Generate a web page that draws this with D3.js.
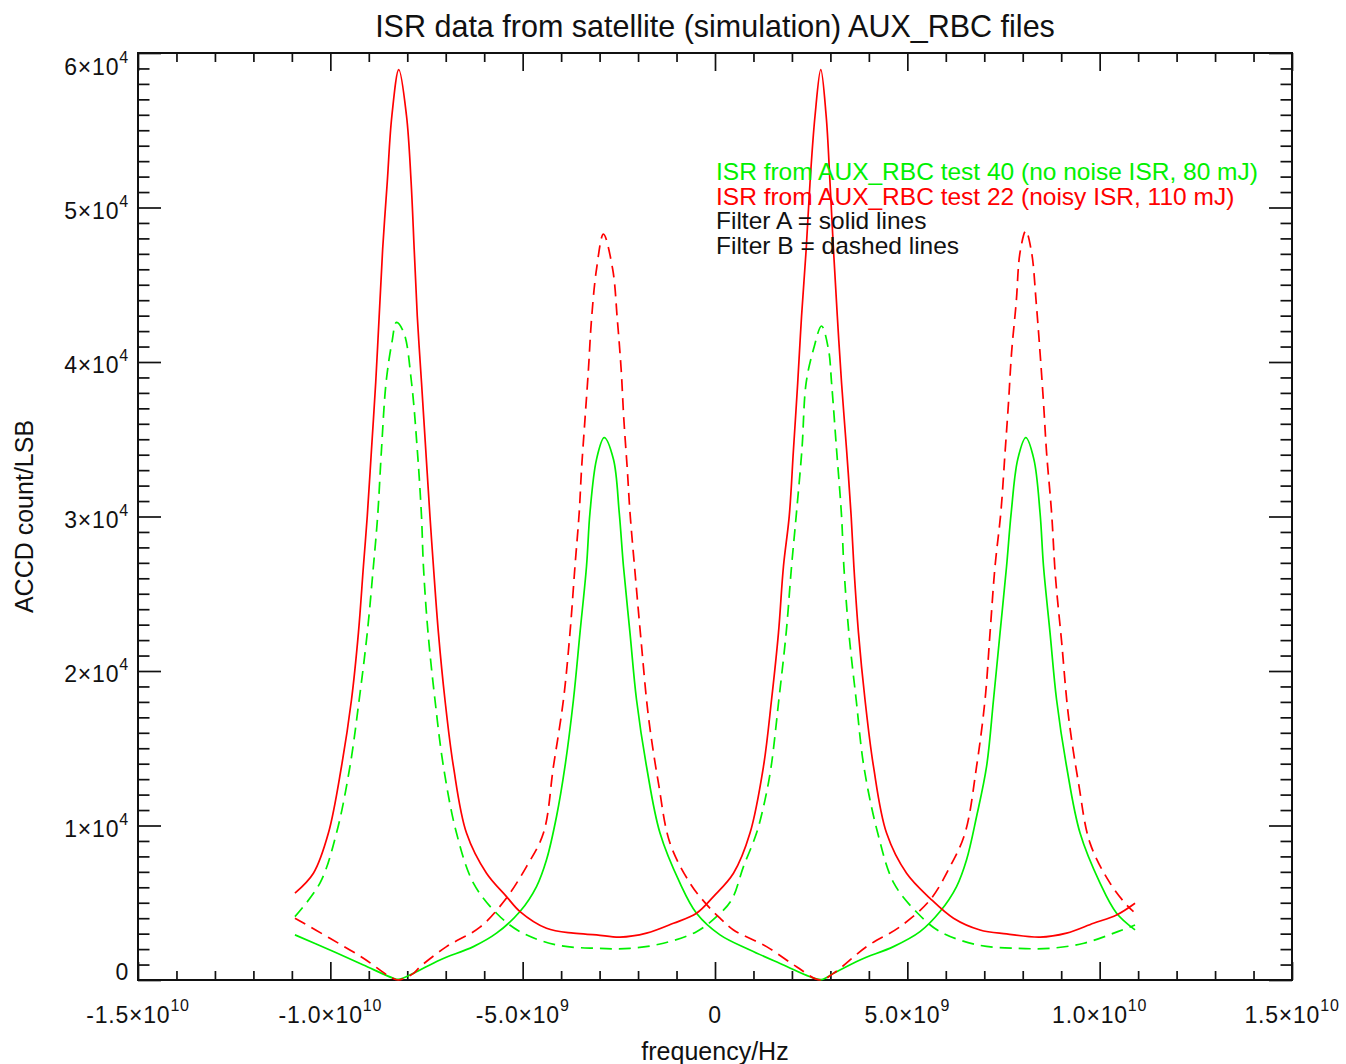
<!DOCTYPE html>
<html>
<head>
<meta charset="utf-8">
<script src="https://cdn.jsdelivr.net/npm/d3@7"></script>
<style>
  body { margin: 0; background: #fff; }
  svg { display: block; }
  text { font-family: "Liberation Sans", Arial, Helvetica, sans-serif; fill: #111; }
</style>
</head>
<body>
<div id="chart"></div>
<script>
// frequencies in units of 1e9 Hz, counts in ACCD LSB

// test 22, filter A (red solid)
const redAFreq = [-10.92,-10.44,-10.05,-9.71,-9.45,-9.27,-9.14,-9.04,-8.93,-8.82,-8.73,-8.64,-8.52,-8.40,-8.22,
  -8.02,-7.90,-7.82,-7.74,-7.63,-7.52,-7.41,-7.32,-7.19,-7.02,-6.80,-6.46,-5.94,-5.42,-5.07,-4.38,-3.68,-3.08,
  -2.47,-1.78,-1.08,-0.48,-0.04,0.48,0.91,1.26,1.47,1.65,1.78,1.93,2.04,2.15,2.25,2.37,2.47,2.60,2.75,2.89,2.99,
  3.08,3.18,3.29,3.42,3.54,3.61,3.73,3.90,4.12,4.46,4.98,5.59,6.20,6.89,7.58,8.45,9.14,9.84,10.44,10.92];
const redACount = [5620,6910,9510,13820,18140,22470,26780,30020,34340,38690,42980,47300,51650,55940,58920,
  55940,51650,47300,42980,38690,34340,30020,26780,22470,18140,13820,9510,6910,5400,4430,3350,3030,2920,
  2770,3030,3670,4320,5400,6910,9510,13820,18140,22470,26780,30020,34340,38640,42960,47280,51600,55920,58920,55920,51600,
  47280,42960,38640,34340,30020,26780,22470,18140,13820,9510,6910,5290,4000,3240,2980,2770,3030,3670,4210,4970];

// test 22, filter B (red dashed)
const redBFreq = [-10.92,-10.01,-9.14,-8.45,-8.23,-7.84,-7.66,-6.98,-6.11,-5.46,-4.90,-4.46,-4.20,-3.94,-3.77,-3.64,
  -3.53,-3.47,-3.38,-3.29,-3.21,-3.08,-2.90,-2.66,-2.54,-2.44,-2.37,-2.28,-2.21,-2.07,-1.92,-1.73,-1.47,-1.17,-0.65,
  -0.21,0.13,0.48,1.34,2.12,2.73,3.08,3.94,4.81,5.59,6.11,6.50,6.80,7.02,7.15,7.28,7.43,7.54,7.63,7.71,7.83,7.93,
  8.08,8.23,8.35,8.45,8.54,8.62,8.75,8.85,9.01,9.19,9.45,9.75,10.27,10.70,10.88];
const redBCount = [4000,2700,1410,210,0,430,870,2160,3420,5180,7340,9510,13820,18140,22470,26780,
  30260,33050,36290,39530,42770,46010,48280,46010,42770,39530,36290,33050,30260,26130,21920,17040,12740,8860,6270,
  4860,4000,3240,2160,860,0,430,2160,3450,5180,7340,9510,13820,18140,22470,26780,30240,34130,37370,40610,43850,47090,
  48490,47090,43850,40610,37370,34130,30240,26130,21920,17060,12750,8860,6270,4860,4430];

// test 40, filter A (green solid)
const greenAFreq = [-10.92,-10.01,-9.14,-8.36,-8.23,-7.84,-7.15,-6.28,-5.68,-5.07,-4.64,-4.38,-4.12,-3.90,-3.68,-3.51,
  -3.34,-3.25,-3.08,-2.88,-2.64,-2.49,-2.38,-2.21,-2.04,-1.78,-1.43,-0.91,-0.48,0.13,0.91,1.78,2.47,2.77,3.08,3.77,
  4.64,5.33,5.85,6.28,6.54,6.80,7.06,7.24,7.41,7.58,7.70,7.87,8.08,8.29,8.45,8.54,8.71,8.88,9.14,9.49,10.01,10.44,10.92];
const greenACount = [2920,1940,970,110,40,430,1300,2160,3030,4430,6050,7780,10580,13820,18140,22470,
  26780,30260,33700,35100,33700,30260,26780,22470,18140,13820,9510,6270,4320,2920,1940,970,210,30,430,1300,
  2160,3130,4430,6050,7780,10580,13820,18140,22470,26780,30240,33700,35100,33700,30240,26780,22470,18140,13820,9510,6270,4320,3240];

// test 40, filter B (green dashed)
const greenBFreq = [-10.92,-10.27,-9.84,-9.49,-9.25,-9.04,-8.88,-8.77,-8.67,-8.55,-8.40,-8.28,-8.09,-7.89,-7.74,-7.63,
  -7.58,-7.46,-7.28,-7.06,-6.72,-6.28,-5.68,-5.07,-4.12,-3.08,-2.21,-1.34,-0.48,0.04,0.43,0.74,1.08,1.30,1.46,1.66,
  1.85,1.99,2.11,2.26,2.37,2.56,2.77,2.95,3.03,3.16,3.29,3.35,3.48,3.67,3.87,4.23,4.65,5.27,5.85,6.83,7.87,8.71,
  9.59,10.47,10.92];
const greenBCount = [4100,6270,9510,13820,18140,22470,26780,30020,34340,38690,41260,42560,41900,38690,34340,30020,
  26780,22470,18140,13820,9510,6270,4320,3130,2270,2050,2050,2380,3130,4100,5180,7340,9510,11660,13820,18140,
  22470,26780,30020,34340,38660,40820,42330,40820,38660,34340,30020,26780,22470,18140,13820,9510,6270,4320,3130,2270,2050,2050,
  2380,3130,3560];

// axis ticks
const xMajor = [-1.5e10, -1.0e10, -5.0e9, 0, 5.0e9, 1.0e10, 1.5e10];
const xLabels = [["-1.5×10", "10"], ["-1.0×10", "10"], ["-5.0×10", "9"], ["0", ""], ["5.0×10", "9"], ["1.0×10", "10"], ["1.5×10", "10"]];
const yMajor = [0, 10000, 20000, 30000, 40000, 50000, 60000];
const yLabels = [["0", ""], ["1×10", "4"], ["2×10", "4"], ["3×10", "4"], ["4×10", "4"], ["5×10", "4"], ["6×10", "4"]];

const legendLines = [
  { text: "ISR from AUX_RBC test 40 (no noise ISR, 80 mJ)", color: "#00f000" },
  { text: "ISR from AUX_RBC test 22 (noisy ISR, 110 mJ)", color: "#ff0000" },
  { text: "Filter A = solid lines", color: "#111" },
  { text: "Filter B = dashed lines", color: "#111" }
];

const W = 1346, H = 1064;
const margin = {top: 53, right: 54, bottom: 84, left: 138};
const width = W - margin.left - margin.right;
const height = H - margin.top - margin.bottom;

const svg = d3.select("#chart").append("svg")
  .attr("width", W)
  .attr("height", H);

const g = svg.append("g")
  .attr("transform", `translate(${margin.left},${margin.top})`);

const xScale = d3.scaleLinear().domain([-1.5e10, 1.5e10]).range([0, width]);
const yScale = d3.scaleLinear().domain([0, 60000]).range([height, 0]);

const xMinor = d3.range(-15, 16).map(d => d * 1e9).filter(d => !xMajor.includes(d));
const yMinor = d3.range(0, 61).map(d => d * 1000).filter(d => !yMajor.includes(d));

const xTickMaj = 18, xTickMin = 9, yTickMaj = 23, yTickMin = 11.5;

function styleAxis(sel) {
  sel.selectAll("line").attr("stroke", "#111").attr("stroke-width", 1.7);
  sel.select(".domain").remove();
}

// ticks (inward) on all four sides
g.append("g").attr("transform", `translate(0,${height})`)
  .call(d3.axisBottom(xScale).tickValues(xMajor).tickSize(-xTickMaj).tickFormat(""))
  .call(styleAxis);
g.append("g").attr("transform", `translate(0,${height})`)
  .call(d3.axisBottom(xScale).tickValues(xMinor).tickSize(-xTickMin).tickFormat(""))
  .call(styleAxis);
g.append("g")
  .call(d3.axisTop(xScale).tickValues(xMajor).tickSize(-xTickMaj).tickFormat(""))
  .call(styleAxis);
g.append("g")
  .call(d3.axisTop(xScale).tickValues(xMinor).tickSize(-xTickMin).tickFormat(""))
  .call(styleAxis);
g.append("g")
  .call(d3.axisLeft(yScale).tickValues(yMajor).tickSize(-yTickMaj).tickFormat(""))
  .call(styleAxis);
g.append("g")
  .call(d3.axisLeft(yScale).tickValues(yMinor).tickSize(-yTickMin).tickFormat(""))
  .call(styleAxis);
g.append("g").attr("transform", `translate(${width},0)`)
  .call(d3.axisRight(yScale).tickValues(yMajor).tickSize(-yTickMaj).tickFormat(""))
  .call(styleAxis);
g.append("g").attr("transform", `translate(${width},0)`)
  .call(d3.axisRight(yScale).tickValues(yMinor).tickSize(-yTickMin).tickFormat(""))
  .call(styleAxis);

// box
g.append("rect")
  .attr("width", width).attr("height", height)
  .attr("fill", "none").attr("stroke", "#111").attr("stroke-width", 2);

// tick labels: mantissa plus superscript exponent
function addLabel(sel, pair) {
  sel.append("tspan").text(pair[0]);
  if (pair[1]) {
    sel.append("tspan").attr("dy", -12).attr("font-size", 16).text(pair[1]);
  }
}

xMajor.forEach((v, i) => {
  const t = g.append("text")
    .attr("x", xScale(v))
    .attr("y", height + 43)
    .attr("text-anchor", "middle")
    .attr("font-size", 23)
    .attr("letter-spacing", 0.8);
  addLabel(t, xLabels[i]);
});

yMajor.forEach((v, i) => {
  const off = i === 0 ? 0 : (i === yMajor.length - 1 ? 22 : 11);
  const t = g.append("text")
    .attr("x", -9)
    .attr("y", yScale(v) + off)
    .attr("text-anchor", "end")
    .attr("font-size", 23)
    .attr("letter-spacing", 0.8);
  addLabel(t, yLabels[i]);
});

// curves
const series = [
  { f: greenBFreq, c: greenBCount, color: "#00f000", dash: "12,7" },
  { f: greenAFreq, c: greenACount, color: "#00f000", dash: null },
  { f: redBFreq, c: redBCount, color: "#ff0000", dash: "12,7" },
  { f: redAFreq, c: redACount, color: "#ff0000", dash: null }
];

const line = d3.line()
  .x(d => xScale(d[0] * 1e9))
  .y(d => yScale(d[1]))
  .curve(d3.curveCatmullRom.alpha(0.5));

series.forEach(s => {
  g.append("path")
    .datum(d3.zip(s.f, s.c))
    .attr("fill", "none")
    .attr("stroke", s.color)
    .attr("stroke-width", 1.7)
    .attr("stroke-dasharray", s.dash)
    .attr("d", line);
});

// legend text
legendLines.forEach((l, i) => {
  g.append("text")
    .attr("x", 716 - margin.left)
    .attr("y", 180 - margin.top + i * 24.5)
    .attr("font-size", 24.5)
    .style("fill", l.color)
    .text(l.text);
});

// title and axis titles
svg.append("text")
  .attr("x", margin.left + width / 2)
  .attr("y", 37)
  .attr("text-anchor", "middle")
  .attr("font-size", 30.5)
  .text("ISR data from satellite (simulation) AUX_RBC files");

svg.append("text")
  .attr("x", margin.left + width / 2)
  .attr("y", 1060)
  .attr("text-anchor", "middle")
  .attr("font-size", 25)
  .text("frequency/Hz");

svg.append("text")
  .attr("transform", `translate(33,${margin.top + height / 2}) rotate(-90)`)
  .attr("text-anchor", "middle")
  .attr("font-size", 25)
  .text("ACCD count/LSB");
</script>
</body>
</html>
